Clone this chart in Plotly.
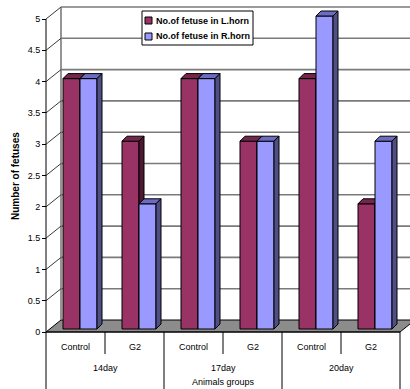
import plotly.graph_objects as go

# ---- data ----
categories = ["Control", "G2", "Control", "G2", "Control", "G2"]
groups = ["14day", "17day", "20day"]
left_horn = [4, 3, 4, 3, 4, 2]
right_horn = [4, 2, 4, 3, 5, 3]
series_names = ["No.of fetuse in L.horn", "No.of fetuse in R.horn"]
y_ticks = [0, 0.5, 1, 1.5, 2, 2.5, 3, 3.5, 4, 4.5, 5]
y_tick_text = ["0", "0.5", "1", "1.5", "2", "2.5", "3", "3.5", "4", "4.5", "5"]

# ---- pseudo-3D geometry (axis units) ----
W, H = 410, 389
PX_X, PX_Y = 59.0, 62.6          # pixels per category / per unit
X_MIN, X_MAX = -46 / PX_X, (W - 46) / PX_X
Y_MIN, Y_MAX = -57 / PX_Y, 332 / PX_Y
WX, WY = 15 / PX_X, 12 / PX_Y    # wall depth
BAR_W = 17 / PX_X
BAR_SHIFT = 4.5 / PX_X
BAR_LIFT = 3 / PX_Y
BDX, BDY = 5 / PX_X, 5 / PX_Y    # bar depth
N = len(categories)
Y_TOP = y_ticks[-1]

FONT = "Liberation Sans, Arial, sans-serif"
series_colors = [
    dict(front="#993366", top="#74264d", side="#4d1933"),
    dict(front="#9999ff", top="#6c6cc0", side="#4f4f85"),
]

fig = go.Figure()


def add_lines(xs, ys, color, width):
    fig.add_trace(go.Scatter(x=xs, y=ys, mode="lines", hoverinfo="skip",
                             showlegend=False,
                             line=dict(color=color, width=width)))


def add_poly(xs, ys, fill, name=None):
    fig.add_trace(go.Scatter(x=xs, y=ys, mode="lines", fill="toself",
                             fillcolor=fill, hoverinfo="skip",
                             showlegend=False, name=name,
                             line=dict(color="black", width=1)))


# floor
add_poly([0, N, N + WX, WX, 0], [0, 0, WY, WY, 0], "#8c8c8c")

# back-wall gridlines, side-wall diagonals, back-wall left edge
gx, gy, sx, sy = [], [], [], []
for v in y_ticks[1:]:
    gx += [WX, N + WX + 1, None]
    gy += [v + WY, v + WY, None]
    sx += [0, WX, None]
    sy += [v, v + WY, None]
add_lines(gx, gy, "#7a7a7a", 1.6)
add_lines([WX, WX], [WY, Y_TOP + WY], "#7a7a7a", 1.6)
add_lines(sx, sy, "#3a3a3a", 1)

# front value axis and category table lines
tx, ty = [0, 0, None], [Y_TOP, Y_MIN, None]
for i in range(1, N + 1):
    bottom = Y_MIN if i % 2 == 0 else -22 / PX_Y
    tx += [i, i, None]
    ty += [0, bottom, None]
add_lines(tx, ty, "black", 1)
add_lines([0, N], [0, 0], "black", 1)

# bars: front, top and side faces, painted back-to-front
for i in range(N):
    x_start = i + 0.5 - BAR_W + BAR_SHIFT
    for s, vals in enumerate([left_horn, right_horn]):
        v = vals[i]
        x0 = x_start + s * BAR_W
        x1 = x0 + BAR_W
        b, t = BAR_LIFT, v + BAR_LIFT
        c = series_colors[s]
        add_poly([x0, x1, x1, x0, x0], [b, b, t, t, b], c["front"], series_names[s])
        add_poly([x0, x1, x1 + BDX, x0 + BDX, x0], [t, t, t + BDY, t + BDY, t], c["top"])
        add_poly([x1, x1 + BDX, x1 + BDX, x1, x1], [b, b + BDY, t + BDY, t, b], c["side"])

annotations = []
# category labels
for i, cat in enumerate(categories):
    annotations.append(dict(x=i + 0.5, y=-15 / PX_Y, text=cat, xref="x", yref="y",
                            showarrow=False, font=dict(family=FONT, size=9, color="black")))
for g, grp in enumerate(groups):
    annotations.append(dict(x=2 * g + 1, y=-36 / PX_Y, text=grp, xref="x", yref="y",
                            showarrow=False, font=dict(family=FONT, size=9, color="black")))
annotations.append(dict(x=N / 2, y=-50 / PX_Y, text="Animals groups", xref="x", yref="y",
                        showarrow=False, font=dict(family=FONT, size=9, color="black")))
# value axis title
annotations.append(dict(x=15 / W, y=1 - 176 / H, xref="paper", yref="paper",
                        xanchor="center", yanchor="middle",
                        text="<b>Number of fetuses</b>", textangle=-90, showarrow=False,
                        font=dict(family=FONT, size=10, color="black")))

# legend box
shapes = [dict(type="rect", xref="paper", yref="paper", layer="above",
               x0=142 / W, x1=253 / W, y0=1 - 45 / H, y1=1 - 11 / H,
               fillcolor="white", line=dict(color="black", width=1))]
for k, (name, c) in enumerate(zip(series_names, series_colors)):
    cy = 20.5 + 16 * k
    shapes.append(dict(type="rect", xref="paper", yref="paper", layer="above",
                       x0=145 / W, x1=152 / W, y0=1 - (cy + 3.5) / H, y1=1 - (cy - 3.5) / H,
                       fillcolor=c["front"], line=dict(color="black", width=1)))
    annotations.append(dict(x=154 / W, y=1 - cy / H, xref="paper", yref="paper",
                            xanchor="left", yanchor="middle", text="<b>" + name + "</b>",
                            showarrow=False,
                            font=dict(family=FONT, size=9, color="black")))

fig.update_layout(
    width=W, height=H,
    margin=dict(l=0, r=0, t=0, b=0),
    paper_bgcolor="white", plot_bgcolor="white",
    showlegend=False,
    xaxis=dict(range=[X_MIN, X_MAX], visible=False, fixedrange=True),
    yaxis=dict(range=[Y_MIN, Y_MAX], anchor="free", position=46 / W,
               tickvals=y_ticks, ticktext=y_tick_text, ticks="outside",
               ticklen=4, tickcolor="black", tickwidth=1,
               showgrid=False, zeroline=False, showline=False,
               tickfont=dict(family=FONT, size=9, color="black"),
               fixedrange=True),
    shapes=shapes,
    annotations=annotations,
)

fig.write_html("out.html")
